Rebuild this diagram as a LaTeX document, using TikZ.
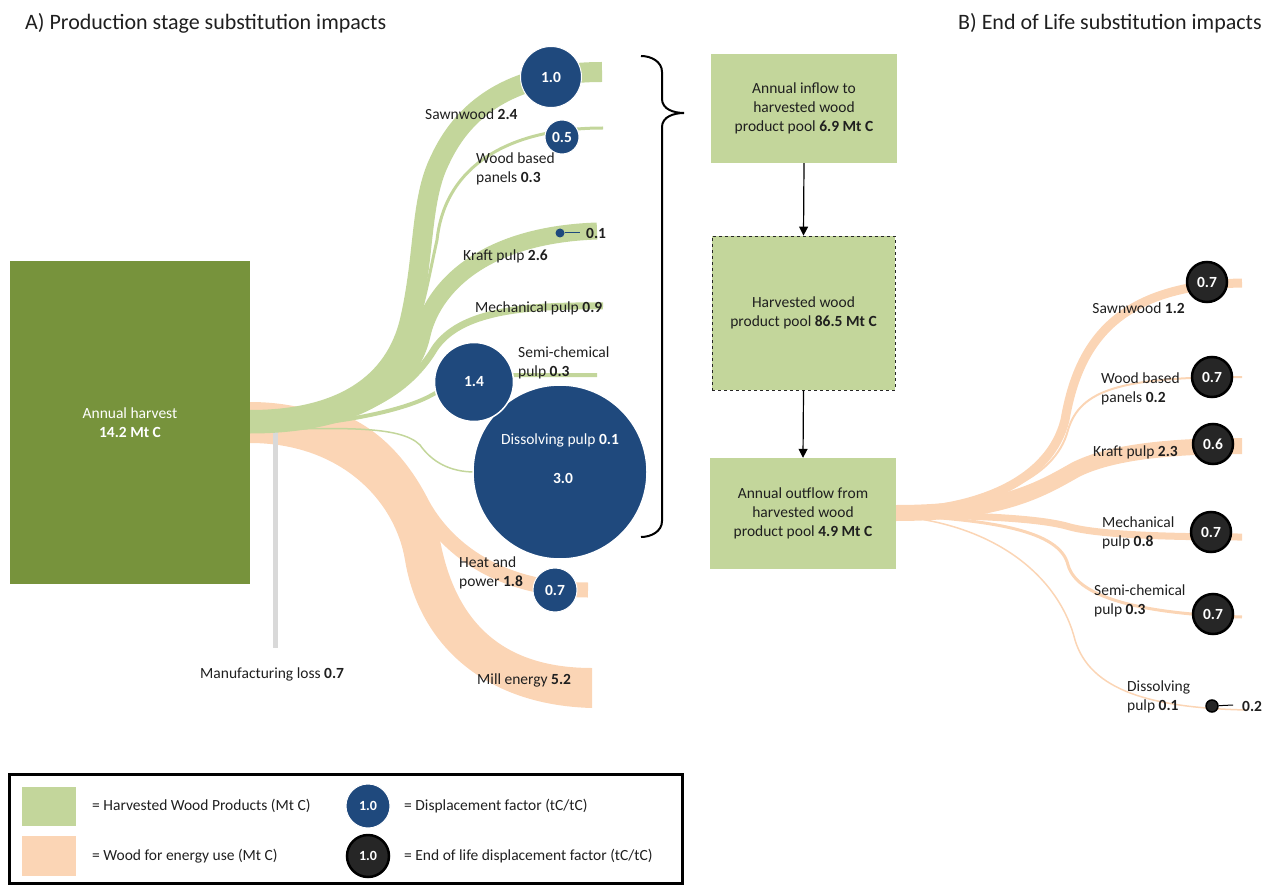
\documentclass[tikz,border=0pt]{standalone}
\usepackage{fontspec}
\setmainfont{Carlito}
\usetikzlibrary{arrows.meta}
\definecolor{hwp}{HTML}{C3D69B}
\definecolor{nrg}{HTML}{FBD5B5}
\definecolor{olivedk}{HTML}{77933C}
\definecolor{dblue}{HTML}{1F497D}
\definecolor{lgrey}{HTML}{D9D9D9}
\begin{document}
\begin{tikzpicture}[x=1pt,y=-1pt,
  lab/.style={font=\fontsize{15.5}{19}\selectfont, inner sep=0pt, text=black!88, align=left},
  ttl/.style={font=\fontsize{22}{26}\selectfont, inner sep=0pt, text=black!88},
  gflow/.style={draw=hwp},
  oflow/.style={draw=nrg},
  bcirc/.style={circle, fill=dblue, draw=white, line width=1pt, inner sep=0pt, text=white, font=\fontsize{15.5}{19}\selectfont\bfseries},
  kcirc/.style={circle, fill=black!85, draw=black, line width=2.5pt, inner sep=0pt, text=white, font=\fontsize{15.5}{19}\selectfont\bfseries, minimum size=40},
  pbox/.style={fill=hwp, align=center, inner sep=0pt, font=\fontsize{15.5}{19}\selectfont, text=black!88},
  arr/.style={-{Triangle[length=9pt,width=9pt]}, line width=1.2pt, black}
]
\useasboundingbox (0,0) rectangle (1274,885);

% titles
\node[ttl, anchor=west] (tA) at (25,23) {A) Production stage substitution impacts};
\node[ttl, anchor=east] (tB) at (1262,23) {B) End of Life substitution impacts};

% ---------- left: energy flows (behind) ----------
\fill[nrg] (250,402) .. controls (340,402) and (410,450) .. (440,540)
  .. controls (455,620) and (500,668) .. (592,668) -- (592,708)
  .. controls (480,705) and (418,640) .. (405,560)
  .. controls (395,500) and (340,443) .. (250,443) -- cycle;
\draw[oflow, line width=15] (330,418) .. controls (370,430) and (400,462) .. (420,500) .. controls (440,540) and (490,590) .. (588,590);

% manufacturing loss
\draw[draw=lgrey, line width=5] (275.5,431) -- (275.5,648);

% ---------- left: wood product flows ----------
\draw[gflow, line width=1.5] (250,430) .. controls (340,428) and (400,425) .. (420,445) .. controls (432,462) and (450,472) .. (475,472);
\draw[gflow, line width=4] (250,428) .. controls (330,426) and (400,412) .. (430,396) .. controls (450,385) and (470,376) .. (500,375) -- (597,375);
\draw[gflow, line width=7] (250,427) .. controls (360,427) and (410,390) .. (435,348) .. controls (460,312) and (520,305) .. (603,306);
\draw[gflow, line width=17] (250,425) .. controls (350,425) and (410,390) .. (422,335) .. controls (432,290) and (480,235) .. (597,231);
\draw[gflow, line width=3] (250,423) .. controls (345,423) and (405,380) .. (420,315) .. controls (428,285) and (432,262) .. (437,240) .. controls (445,165) and (510,128) .. (603,128);
\draw[gflow, line width=20] (250,420) .. controls (340,420) and (395,385) .. (410,320) .. controls (425,255) and (420,200) .. (440,160) .. controls (470,95) and (530,72) .. (602,72);

% harvest block
\node[fill=olivedk, minimum width=240, minimum height=323, inner sep=0pt, align=center, text=white, font=\fontsize{15.5}{19}\selectfont] (harv) at (130,422.5) {Annual harvest\\\textbf{14.2 Mt C}};

% displacement circles
\node[bcirc, minimum size=61] (c10) at (551,77) {1.0};
\node[bcirc, minimum size=34] (c05) at (562,137) {0.5};
\node[circle, fill=dblue, minimum size=9, inner sep=0pt] (c01) at (560,233) {};
\draw[dblue, line width=1pt] (c01) -- (580,233);
\node[lab, anchor=west, font=\fontsize{15.5}{19}\selectfont\bfseries] (v01) at (586,233) {0.1};
\node[bcirc, minimum size=174, line width=1.5pt] (c30) at (560,472) {};
\node[bcirc, minimum size=79, line width=1.5pt] (c14) at (474,382) {1.4};
\node[bcirc, minimum size=44] (c07) at (555,590) {0.7};
\node[lab, anchor=center, text=white] (dpl) at (560,440) {Dissolving pulp \textbf{0.1}};
\node[lab, anchor=center, text=white, font=\fontsize{15.5}{19}\selectfont\bfseries] (dp30) at (563,478) {3.0};

% left labels
\node[lab, anchor=west] (lsw) at (425,114) {Sawnwood \textbf{2.4}};
\node[lab, anchor=west] (lwp) at (476,169) {Wood based\\panels \textbf{0.3}};
\node[lab, anchor=west] (lkp) at (463,256) {Kraft pulp \textbf{2.6}};
\node[lab, anchor=west] (lmp) at (475,308) {Mechanical pulp \textbf{0.9}};
\node[lab, anchor=west] (lsc) at (518,363) {Semi-chemical\\pulp \textbf{0.3}};
\node[lab, anchor=west] (lhp) at (459,573) {Heat and\\power \textbf{1.8}};
\node[lab, anchor=west] (lme) at (477,680) {Mill energy \textbf{5.2}};
\node[lab, anchor=west] (lml) at (200,674) {Manufacturing loss \textbf{0.7}};

% bracket
\draw[line width=2pt, black] (641,56) to[out=0,in=90] (662,72) -- (662,99) to[out=-90,in=180] (684,113)
  to[out=180,in=90] (662,127) -- (662,521) to[out=-90,in=0] (641,537);

% ---------- right: end of life flows ----------
\draw[oflow, line width=1.5] (896,516) .. controls (1000,525) and (1060,580) .. (1075,640) .. controls (1090,690) and (1150,708) .. (1247,710);
\draw[oflow, line width=3] (896,515) .. controls (990,520) and (1060,530) .. (1068,565) .. controls (1078,600) and (1150,614) .. (1242,617);
\draw[oflow, line width=7] (896,514) .. controls (980,516) and (1040,518) .. (1070,527) .. controls (1100,535) and (1170,537) .. (1242,537);
\draw[oflow, line width=2] (896,512) .. controls (990,505) and (1055,480) .. (1068,430) .. controls (1080,390) and (1120,377) .. (1242,377);
\draw[oflow, line width=9] (896,512) .. controls (980,510) and (1050,480) .. (1065,420) .. controls (1078,345) and (1115,285) .. (1242,283);
\draw[oflow, line width=16] (896,513) .. controls (1000,513) and (1040,490) .. (1075,470) .. controls (1110,452) and (1170,446) .. (1242,446);

% pool boxes
\node[pbox, minimum width=186, minimum height=109] (b1) at (804,108.5) {Annual inflow to\\harvested wood\\product pool \textbf{6.9 Mt C}};
\node[pbox, minimum width=183, minimum height=154, draw=black!85, dashed, line width=0.8pt] (b2) at (803.5,313) {Harvested wood\\product pool \textbf{86.5 Mt C}};
\node[pbox, minimum width=186, minimum height=111] (b3) at (803,513.5) {Annual outflow from\\harvested wood\\product pool \textbf{4.9 Mt C}};
\draw[arr] (b1.south) -- (b2.north);
\draw[arr] (b2.south) -- (b3.north);

% end of life circles
\node[kcirc] (k1) at (1207,282) {0.7};
\node[kcirc] (k2) at (1212,377) {0.7};
\node[kcirc] (k3) at (1213,444) {0.6};
\node[kcirc] (k4) at (1211,532) {0.7};
\node[kcirc] (k5) at (1213,614) {0.7};
\node[circle, fill=black!85, draw=black, line width=1.5pt, minimum size=12, inner sep=0pt] (k6) at (1212,706) {};
\draw[black, line width=1pt] (k6) -- (1233,705);
\node[lab, anchor=west, font=\fontsize{15.5}{19}\selectfont\bfseries] (v02) at (1242,706) {0.2};

% right labels
\node[lab, anchor=east] (rsw) at (1185,308) {Sawnwood \textbf{1.2}};
\node[lab, anchor=west] (rwp) at (1101,389) {Wood based\\panels \textbf{0.2}};
\node[lab, anchor=west] (rkp) at (1093,452) {Kraft pulp \textbf{2.3}};
\node[lab, anchor=west] (rmp) at (1102,533) {Mechanical\\pulp \textbf{0.8}};
\node[lab, anchor=west] (rsc) at (1094,601) {Semi-chemical\\pulp \textbf{0.3}};
\node[lab, anchor=west] (rdp) at (1127,697) {Dissolving\\pulp \textbf{0.1}};

% legend
\draw[line width=3pt, black] (9,774) rectangle (682,883);
\fill[hwp] (22,787) rectangle (76,826);
\fill[nrg] (22,836) rectangle (76,876);
\node[lab, anchor=west] (lg1) at (92,806) {= Harvested Wood Products (Mt C)};
\node[lab, anchor=west] (lg2) at (92,856) {= Wood for energy use (Mt C)};
\node[bcirc, minimum size=44, font=\fontsize{14}{16}\selectfont\bfseries] (lgc1) at (368,806) {1.0};
\node[kcirc, minimum size=42, font=\fontsize{14}{16}\selectfont\bfseries] (lgc2) at (368,856) {1.0};
\node[lab, anchor=west] (lg3) at (404,806) {= Displacement factor (tC/tC)};
\node[lab, anchor=west] (lg4) at (404,856) {= End of life displacement factor (tC/tC)};
\end{tikzpicture}
\end{document}
